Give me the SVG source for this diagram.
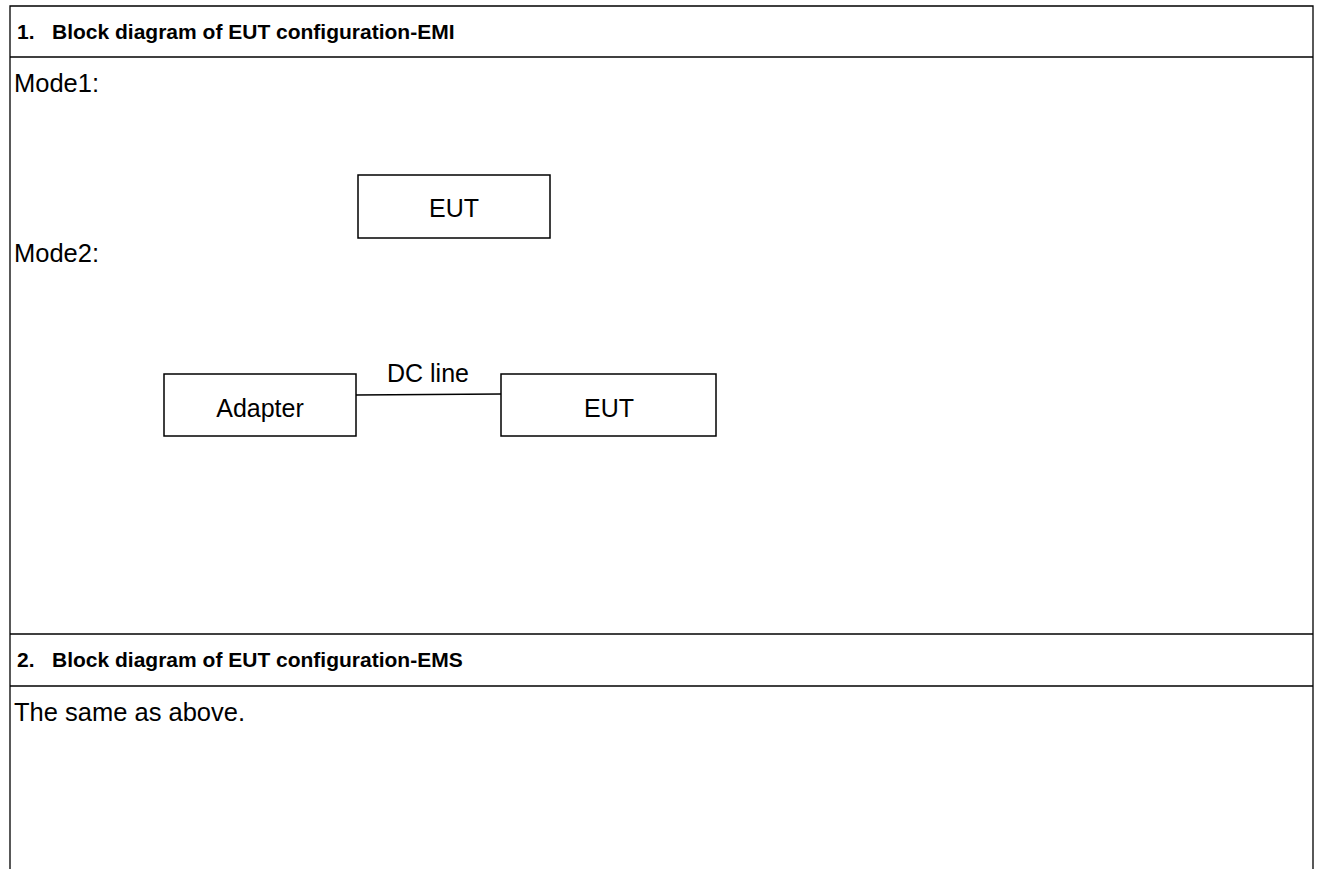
<svg xmlns="http://www.w3.org/2000/svg" width="1317" height="869" viewBox="0 0 1317 869">
  <style>
    .rule { stroke: #000; stroke-width: 1.3; fill: none; }
    .box { stroke: #000; stroke-width: 1.5; fill: #fff; }
    .txt { font-family: "Liberation Sans", Arial, sans-serif; font-size: 25.5px; fill: #000; }
    .hd { font-weight: bold; font-size: 21px; }
    .lbl { text-anchor: middle; font-size: 25px; }
  </style>
  <rect width="1317" height="869" fill="#fff"/>

  <!-- table frame -->
  <g id="table">
    <polyline class="rule" points="10,869 10,6 1313,6 1313,869"/>
    <line class="rule" x1="10" y1="57" x2="1313" y2="57"/>
    <line class="rule" x1="10" y1="634" x2="1313" y2="634"/>
    <line class="rule" x1="10" y1="686" x2="1313" y2="686"/>
  </g>

  <!-- section headings and captions -->
  <g id="headings">
    <text class="txt hd" x="17" y="39">1.</text>
    <text class="txt hd" x="52" y="39">Block diagram of EUT configuration-EMI</text>
    <text class="txt" x="14" y="92">Mode1:</text>
    <text class="txt" x="14" y="262">Mode2:</text>
    <text class="txt hd" x="17" y="667">2.</text>
    <text class="txt hd" x="52" y="667">Block diagram of EUT configuration-EMS</text>
    <text class="txt" x="14" y="721">The same as above.</text>
  </g>

  <!-- mode 1 -->
  <g id="eut-mode1">
    <rect class="box" x="358" y="175" width="192" height="63"/>
    <text class="txt lbl" x="454" y="217">EUT</text>
  </g>

  <!-- mode 2 -->
  <g id="connectors">
    <line class="rule" x1="356" y1="395" x2="501" y2="394"/>
    <text class="txt lbl" x="428" y="382">DC line</text>
  </g>
  <g id="adapter">
    <rect class="box" x="164" y="374" width="192" height="62"/>
    <text class="txt lbl" x="260" y="417">Adapter</text>
  </g>
  <g id="eut-mode2">
    <rect class="box" x="501" y="374" width="215" height="62"/>
    <text class="txt lbl" x="609" y="417">EUT</text>
  </g>
</svg>
